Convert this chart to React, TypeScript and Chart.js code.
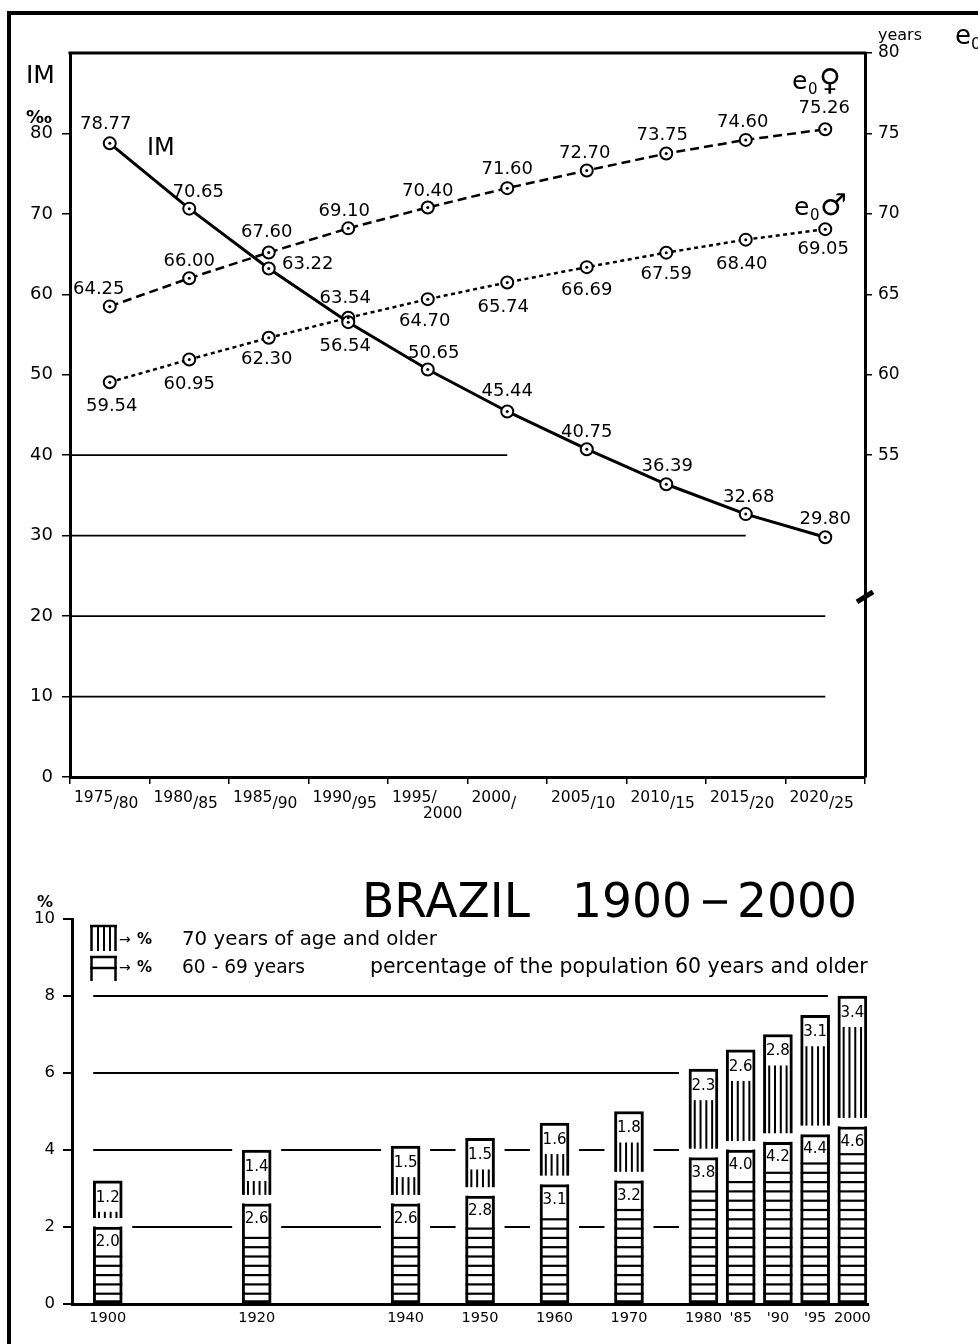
import React, { useEffect, useRef } from "react";
import { Chart, registerables } from "chart.js";

Chart.register(...registerables);

const FONT = "'DejaVu Sans', 'Liberation Sans', sans-serif";

// ---------- Top chart data ----------
const periodMain = ["1975", "1980", "1985", "1990", "1995/", "2000", "2005", "2010", "2015", "2020"];
const periodSub = ["/80", "/85", "/90", "/95", "2000", "/", "/10", "/15", "/20", "/25"];
const periods = periodMain.map((m, i) => m + periodSub[i]);
const imValues = [78.77, 70.65, 63.22, 56.54, 50.65, 45.44, 40.75, 36.39, 32.68, 29.8];
const e0Female = [64.25, 66.0, 67.6, 69.1, 70.4, 71.6, 72.7, 73.75, 74.6, 75.26];
const e0Male = [59.54, 60.95, 62.3, 63.54, 64.7, 65.74, 66.69, 67.59, 68.4, 69.05];
const imTicks = [0, 10, 20, 30, 40, 50, 60, 70, 80];
const e0Ticks = [55, 60, 65, 70, 75, 80];
// reference lines of the IM axis: [value, last period index reached]
const imGridLines = [
  [10, 9],
  [20, 9],
  [30, 8],
  [40, 5],
];

// ---------- Bottom chart data ----------
const censusYears = [1900, 1920, 1940, 1950, 1960, 1970, 1980, 1985, 1990, 1995, 2000];
const yearLabels = ["1900", "1920", "1940", "1950", "1960", "1970", "1980", "'85", "'90", "'95", "2000"];
const pct60to69 = [2.0, 2.6, 2.6, 2.8, 3.1, 3.2, 3.8, 4.0, 4.2, 4.4, 4.6];
const pct70plus = [1.2, 1.4, 1.5, 1.5, 1.6, 1.8, 2.3, 2.6, 2.8, 3.1, 3.4];
const pctTicks = [0, 2, 4, 6, 8, 10];
// reference lines: [value, year where the line stops]
const pctGridLines = [
  [2, 1977],
  [4, 1977],
  [6, 1977],
  [8, 2000],
];

// label placement (dx, dy from the point), styling only
const imLabelOffset = [[-4, -19], [9, -16], [39, -4], [-3, 24], [6, -16], [0, -20], [0, -17], [1, -18], [3, -17], [0, -18]];
const femLabelOffset = [[-11, -17], [0, -17], [-2, -20], [-4, -17], [0, -16], [0, -19], [-2, -17], [-4, -18], [-3, -18], [-1, -21]];
const maleLabelOffset = [[2, 24], [0, 25], [-2, 22], [-3, -19], [-3, 22], [-4, 25], [0, 23], [0, 22], [-4, 25], [-2, 20]];

function line(ctx: any, x1: number, y1: number, x2: number, y2: number) {
  ctx.beginPath();
  ctx.moveTo(x1, y1);
  ctx.lineTo(x2, y2);
  ctx.stroke();
}

function fitSize(ctx: any, text: string, width: number) {
  ctx.font = `100px ${FONT}`;
  const w = ctx.measureText(text).width;
  return (100 * width) / w;
}

const topDecor = {
  id: "topDecor",
  beforeDatasetsDraw(chart: any) {
    const ctx = chart.ctx;
    const { left } = chart.chartArea;
    const xs = chart.scales.x;
    const ys = chart.scales.y;
    ctx.save();
    ctx.strokeStyle = "#000";
    ctx.lineWidth = 1.8;
    imGridLines.forEach(([v, idx]) => {
      const y = ys.getPixelForValue(v);
      line(ctx, left, y, xs.getPixelForValue(idx), y);
    });
    ctx.restore();
  },
  afterDatasetsDraw(chart: any) {
    const ctx = chart.ctx;
    ctx.save();
    ctx.fillStyle = "#000";
    [0, 1, 2].forEach((d) => {
      chart.getDatasetMeta(d).data.forEach((p: any) => {
        ctx.beginPath();
        ctx.arc(p.x, p.y, 1.5, 0, Math.PI * 2);
        ctx.fill();
      });
    });
    // value labels
    ctx.font = `18px ${FONT}`;
    ctx.textAlign = "center";
    ctx.textBaseline = "middle";
    const series = [
      [imValues, imLabelOffset],
      [e0Female, femLabelOffset],
      [e0Male, maleLabelOffset],
    ];
    series.forEach(([vals, offs]: any, d) => {
      chart.getDatasetMeta(d).data.forEach((p: any, i: number) => {
        ctx.fillText(vals[i].toFixed(2), p.x + offs[i][0], p.y + offs[i][1]);
      });
    });
    ctx.restore();
  },
  afterDraw(chart: any) {
    const ctx = chart.ctx;
    const { left, right, top } = chart.chartArea;
    const xs = chart.scales.x;
    const y2 = chart.scales.y2;
    ctx.save();
    ctx.strokeStyle = "#000";
    ctx.fillStyle = "#000";
    // top frame of plot
    ctx.lineWidth = 3;
    line(ctx, left - 1.5, top, right + 1.5, top);
    // axis break on the right axis
    const by = y2.getPixelForValue(46.2);
    ctx.lineWidth = 5;
    line(ctx, right - 8, by + 5, right + 8, by - 5);

    // x labels with subscripts
    const cw = (right - left) / periods.length;
    ctx.textAlign = "left";
    ctx.textBaseline = "alphabetic";
    periodMain.forEach((m, i) => {
      const x0 = xs.getPixelForValue(i) - cw / 2 + 4;
      ctx.font = `15.5px ${FONT}`;
      ctx.fillText(m, x0, 802);
      const w = ctx.measureText(m).width;
      if (m.endsWith("/")) {
        ctx.fillText(periodSub[i], x0 + 31, 818);
      } else {
        ctx.fillText(periodSub[i], x0 + w, 808);
      }
    });

    // axis titles
    ctx.font = `25px ${FONT}`;
    ctx.fillText("IM", 26, 83);
    ctx.font = `bold 18px ${FONT}`;
    ctx.fillText("‰", 26, 123);
    ctx.font = `16px ${FONT}`;
    ctx.fillText("years", 878, 40);
    ctx.font = `26px ${FONT}`;
    ctx.fillText("e", 955, 44);
    ctx.font = `16px ${FONT}`;
    ctx.fillText("0", 971, 49);

    // series names
    ctx.font = `24px ${FONT}`;
    ctx.fillText("IM", 147, 155);
    ctx.font = `25px ${FONT}`;
    ctx.fillText("e", 792, 89);
    ctx.font = `15px ${FONT}`;
    ctx.fillText("0", 808, 94);
    ctx.font = `30px ${FONT}`;
    ctx.fillText("♀", 819, 90);
    ctx.font = `25px ${FONT}`;
    ctx.fillText("e", 794, 215);
    ctx.font = `15px ${FONT}`;
    ctx.fillText("0", 810, 220);
    ctx.font = `30px ${FONT}`;
    ctx.fillText("♂", 820, 215);
    ctx.restore();
  },
};

const botDecor = {
  id: "botDecor",
  beforeDatasetsDraw(chart: any) {
    const ctx = chart.ctx;
    const xs = chart.scales.x;
    const ys = chart.scales.y;
    const metaL = chart.getDatasetMeta(0);
    const half = metaL.data[0].width / 2;
    ctx.save();
    ctx.strokeStyle = "#000";
    ctx.lineWidth = 2;
    pctGridLines.forEach(([v, endYear]) => {
      const y = ys.getPixelForValue(v);
      const xStart = xs.getPixelForValue(censusYears[0]) - half;
      const xEnd = xs.getPixelForValue(endYear);
      const gaps: number[][] = [];
      censusYears.forEach((yr, i) => {
        if (pct60to69[i] + pct70plus[i] >= v) {
          const cx = xs.getPixelForValue(yr);
          gaps.push([cx - half - 10, cx + half + 10]);
        }
      });
      let cur = xStart;
      gaps.forEach(([a, b]) => {
        if (a > cur) line(ctx, cur, y, Math.min(a, xEnd), y);
        cur = Math.max(cur, b);
      });
      if (cur < xEnd) line(ctx, cur, y, xEnd, y);
    });
    ctx.restore();
  },
  afterDatasetsDraw(chart: any) {
    const ctx = chart.ctx;
    const metaL = chart.getDatasetMeta(0);
    const metaU = chart.getDatasetMeta(1);
    ctx.save();
    ctx.strokeStyle = "#000";
    ctx.fillStyle = "#000";
    metaL.data.forEach((bar: any, i: number) => {
      const x = bar.x;
      const yTop = bar.y;
      const base = bar.base;
      const w = bar.width;
      const l = x - w / 2;
      const r = x + w / 2;
      // horizontal hatching of the 60-69 part
      ctx.lineWidth = 2.2;
      for (let yy = base - 9.3; yy >= yTop + 26; yy -= 9.3) line(ctx, l, yy, r, yy);
      // gap between the two segments
      ctx.fillStyle = "#fff";
      ctx.fillRect(l - 2, yTop - 9, w + 4, 8.5);
      ctx.fillStyle = "#000";
      // vertical hatching of the 70+ part
      const u = metaU.data[i];
      const uTop = u.y;
      const uBot = yTop - 9;
      ctx.lineWidth = 2;
      if (uBot > uTop + 31) {
        for (let k = 1; k <= 4; k++) {
          const xx = l + (w * k) / 5;
          line(ctx, xx, uTop + 31, xx, uBot);
        }
      }
      ctx.font = `15px ${FONT}`;
      ctx.textAlign = "center";
      ctx.textBaseline = "middle";
      ctx.fillText(pct60to69[i].toFixed(1), x, yTop + 15);
      ctx.fillText(pct70plus[i].toFixed(1), x, uTop + 17);
    });
    ctx.restore();
  },
  afterDraw(chart: any) {
    const ctx = chart.ctx;
    const Y0 = 830; // canvas offset on the page
    ctx.save();
    ctx.fillStyle = "#000";
    ctx.strokeStyle = "#000";
    ctx.textAlign = "left";
    ctx.textBaseline = "alphabetic";
    // title
    const ts = fitSize(ctx, "BRAZIL", 168);
    ctx.font = `${ts}px ${FONT}`;
    ctx.fillText("BRAZIL", 362, 917 - Y0);
    ctx.fillText("1900", 572, 917 - Y0);
    ctx.fillText("2000", 737, 917 - Y0);
    ctx.lineWidth = 3.5;
    line(ctx, 703, 902 - Y0, 727, 902 - Y0);
    // % over the y axis
    ctx.font = `bold 16px ${FONT}`;
    ctx.textAlign = "center";
    ctx.textBaseline = "middle";
    ctx.fillText("%", 45, 903 - Y0);
    // legend icons
    ctx.lineWidth = 2.5;
    line(ctx, 90, 926 - Y0, 117, 926 - Y0);
    line(ctx, 91.5, 926 - Y0, 91.5, 951 - Y0);
    line(ctx, 115.5, 926 - Y0, 115.5, 951 - Y0);
    ctx.lineWidth = 2;
    [98, 104, 110].forEach((xx) => line(ctx, xx, 926 - Y0, xx, 951 - Y0));
    ctx.lineWidth = 2.5;
    line(ctx, 90, 957 - Y0, 117, 957 - Y0);
    line(ctx, 90, 968 - Y0, 117, 968 - Y0);
    line(ctx, 91.5, 957 - Y0, 91.5, 981 - Y0);
    line(ctx, 115.5, 957 - Y0, 115.5, 981 - Y0);
    // legend texts
    ctx.textAlign = "left";
    ctx.font = `14px ${FONT}`;
    ctx.fillText("→", 119, 940 - Y0);
    ctx.fillText("→", 119, 968 - Y0);
    ctx.font = `bold 15px ${FONT}`;
    ctx.fillText("%", 137, 940 - Y0);
    ctx.fillText("%", 137, 968 - Y0);
    const t1 = "70 years of age and older";
    let s = fitSize(ctx, t1, 255);
    ctx.font = `${s}px ${FONT}`;
    ctx.fillText(t1, 182, 940 - Y0);
    const t2 = "60 - 69 years";
    s = fitSize(ctx, t2, 123);
    ctx.font = `${s}px ${FONT}`;
    ctx.fillText(t2, 182, 968 - Y0);
    const t3 = "percentage of the population 60 years and older";
    s = fitSize(ctx, t3, 498);
    ctx.font = `${s}px ${FONT}`;
    ctx.fillText(t3, 370, 968 - Y0);
    ctx.restore();
  },
};

function topConfig(): any {
  const pt = {
    borderColor: "#000",
    pointRadius: 6,
    pointBorderWidth: 2,
    pointBackgroundColor: "#fff",
    pointBorderColor: "#000",
    fill: false,
    tension: 0,
  };
  return {
    type: "line",
    data: {
      labels: periods,
      datasets: [
        { label: "IM", data: imValues, yAxisID: "y", borderWidth: 3, ...pt },
        { label: "e0 ♀", data: e0Female, yAxisID: "y2", borderWidth: 2.5, borderDash: [9, 5], ...pt },
        { label: "e0 ♂", data: e0Male, yAxisID: "y2", borderWidth: 2.5, borderDash: [4, 3.5], ...pt },
      ],
    },
    options: {
      animation: false,
      responsive: false,
      devicePixelRatio: 1,
      layout: { padding: { top: 53, left: 0, right: 0, bottom: 0 } },
      plugins: { legend: { display: false }, tooltip: { enabled: false } },
      scales: {
        x: {
          type: "category",
          offset: true,
          grid: { offset: true, drawOnChartArea: false, drawTicks: true, tickLength: 7, color: "#000", lineWidth: 1.5 },
          border: { color: "#000", width: 3 },
          ticks: { display: false },
          afterFit: (s: any) => {
            s.height = 53;
          },
        },
        y: {
          position: "left",
          min: 0,
          max: 90,
          afterBuildTicks: (s: any) => {
            s.ticks = imTicks.map((v) => ({ value: v }));
          },
          grid: { drawOnChartArea: false, drawTicks: true, tickLength: 8, color: "#000", lineWidth: 1.5 },
          border: { color: "#000", width: 3 },
          ticks: { color: "#000", font: { family: FONT, size: 18 }, padding: 9 },
          afterFit: (s: any) => {
            s.width = 70;
          },
        },
        y2: {
          position: "right",
          min: 35,
          max: 80,
          afterBuildTicks: (s: any) => {
            s.ticks = e0Ticks.map((v) => ({ value: v }));
          },
          grid: { drawOnChartArea: false, drawTicks: true, tickLength: 7, color: "#000", lineWidth: 1.5 },
          border: { color: "#000", width: 3 },
          ticks: { color: "#000", font: { family: FONT, size: 17 }, padding: 6 },
          afterFit: (s: any) => {
            s.width = 113;
          },
        },
      },
    },
    plugins: [topDecor],
  };
}

function botConfig(): any {
  return {
    type: "bar",
    data: {
      datasets: [
        {
          label: "% 60 - 69 years",
          data: censusYears.map((x, i) => ({ x, y: pct60to69[i] })),
          backgroundColor: "#fff",
          borderColor: "#000",
          borderWidth: 3,
          borderSkipped: false,
          barThickness: 29,
        },
        {
          label: "% 70 years of age and older",
          data: censusYears.map((x, i) => ({ x, y: pct70plus[i] })),
          backgroundColor: "#fff",
          borderColor: "#000",
          borderWidth: 3,
          borderSkipped: "bottom",
          barThickness: 29,
        },
      ],
    },
    options: {
      animation: false,
      responsive: false,
      devicePixelRatio: 1,
      layout: { padding: { top: 89, left: 0, right: 110, bottom: 0 } },
      plugins: { legend: { display: false }, tooltip: { enabled: false } },
      scales: {
        x: {
          type: "linear",
          stacked: true,
          offset: false,
          min: 1895.2,
          max: 2002.1,
          afterBuildTicks: (s: any) => {
            s.ticks = censusYears.map((v) => ({ value: v }));
          },
          grid: { offset: false, drawOnChartArea: false, drawTicks: false },
          border: { color: "#000", width: 3 },
          ticks: {
            color: "#000",
            font: { family: FONT, size: 14.5 },
            padding: 6,
            autoSkip: false,
            maxRotation: 0,
            callback: (v: any) => yearLabels[censusYears.indexOf(v)],
          },
          afterFit: (s: any) => {
            s.height = 40;
          },
        },
        y: {
          stacked: true,
          min: 0,
          max: 10,
          afterBuildTicks: (s: any) => {
            s.ticks = pctTicks.map((v) => ({ value: v }));
          },
          grid: { drawOnChartArea: false, drawTicks: true, tickLength: 9, color: "#000", lineWidth: 2 },
          border: { color: "#000", width: 3 },
          ticks: { color: "#000", font: { family: FONT, size: 16.5 }, padding: 8 },
          afterFit: (s: any) => {
            s.width = 72;
          },
        },
      },
    },
    plugins: [botDecor],
  };
}

export default function App() {
  const topRef = useRef<HTMLCanvasElement>(null);
  const botRef = useRef<HTMLCanvasElement>(null);
  useEffect(() => {
    const top = new Chart(topRef.current as HTMLCanvasElement, topConfig());
    const bot = new Chart(botRef.current as HTMLCanvasElement, botConfig());
    return () => {
      top.destroy();
      bot.destroy();
    };
  }, []);
  return (
    <div style={{ position: "absolute", left: 0, top: 0, width: 978, height: 1344, background: "#fff", overflow: "hidden" }}>
      <canvas ref={topRef} width={978} height={830} style={{ position: "absolute", left: 0, top: 0, width: 978, height: 830 }} />
      <canvas ref={botRef} width={978} height={514} style={{ position: "absolute", left: 0, top: 830, width: 978, height: 514 }} />
      <div style={{ position: "absolute", left: 7, top: 11, width: 4, height: 1333, background: "#000" }} />
      <div style={{ position: "absolute", left: 7, top: 11, width: 971, height: 4, background: "#000" }} />
    </div>
  );
}
